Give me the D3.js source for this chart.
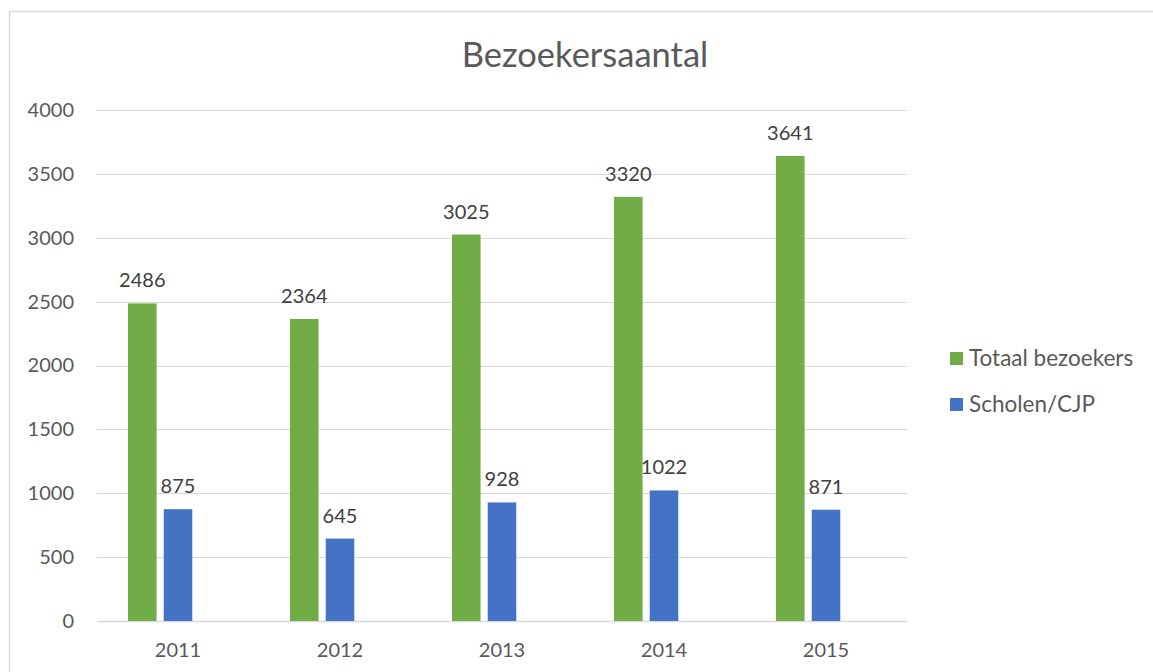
<!DOCTYPE html>
<html>
<head>
<meta charset="utf-8">
<script src="https://cdn.jsdelivr.net/npm/d3@7"></script>
<style>
  html, body { margin: 0; padding: 0; background: #fff; }
  svg { display: block; font-family: Lato, "Open Sans", sans-serif; }
</style>
</head>
<body>
<svg id="chart" width="1153" height="672"></svg>
<script>
const title = "Bezoekersaantal";
const categories = ["2011", "2012", "2013", "2014", "2015"];
const seriesNames = ["Totaal bezoekers", "Scholen/CJP"];
const totaalBezoekers = [2486, 2364, 3025, 3320, 3641];
const scholenCJP = [875, 645, 928, 1022, 871];
const yTicks = [0, 500, 1000, 1500, 2000, 2500, 3000, 3500, 4000];
const colors = ["#70ad47", "#4472c4"];
// Excel chart reserves room for a third (empty) series slot
const seriesSlots = ["Totaal bezoekers", "Scholen/CJP", "(leeg)"];

const seriesValues = [totaalBezoekers, scholenCJP];

const svg = d3.select("#chart");
const textColor = "#595959";
const gridColor = "#d9d9d9";

// outer chart border
svg.append("rect")
  .attr("x", 9.5).attr("y", 11.5)
  .attr("width", 1300).attr("height", 800)
  .attr("fill", "#fff").attr("stroke", gridColor).attr("stroke-width", 1.5);

const plot = { left: 97, right: 907, top: 110, bottom: 621 };

const x = d3.scaleBand().domain(categories).range([plot.left, plot.right]).padding(0);
const xs = d3.scaleBand().domain(seriesSlots).range([31, 131]).paddingInner(0.2).paddingOuter(0);
const y = d3.scaleLinear().domain([0, 4000]).range([plot.bottom, plot.top]);

// gridlines
svg.append("g").selectAll("line").data(yTicks).join("line")
  .attr("x1", plot.left).attr("x2", plot.right)
  .attr("y1", d => Math.round(y(d)) + 0.5).attr("y2", d => Math.round(y(d)) + 0.5)
  .attr("stroke", gridColor).attr("stroke-width", d => d === 0 ? 1.5 : 1);

// y axis labels
const yAxis = d3.axisLeft(y).tickValues(yTicks).tickSize(0).tickPadding(23).tickFormat(d3.format("d"));
const yg = svg.append("g").attr("transform", `translate(${plot.left},0)`).call(yAxis);
yg.select(".domain").remove();
yg.selectAll("text").attr("fill", textColor).style("font-size", "20px").style("font-family", "Lato, sans-serif");

// x axis labels
const xAxis = d3.axisBottom(x).tickSize(0).tickPadding(22);
const xg = svg.append("g").attr("transform", `translate(0,${plot.bottom})`).call(xAxis);
xg.select(".domain").remove();
xg.selectAll("text").attr("fill", textColor).style("font-size", "20px").style("font-family", "Lato, sans-serif");

// bars
seriesValues.forEach((vals, si) => {
  const g = svg.append("g");
  g.selectAll("rect").data(vals).join("rect")
    .attr("x", (d, i) => x(categories[i]) + xs(seriesSlots[si]))
    .attr("width", xs.bandwidth())
    .attr("y", d => y(d))
    .attr("height", d => y(0) - y(d))
    .attr("fill", colors[si]);
  g.selectAll("text").data(vals).join("text")
    .attr("x", (d, i) => x(categories[i]) + xs(seriesSlots[si]) + xs.bandwidth() / 2)
    .attr("y", d => y(d) - 16)
    .attr("text-anchor", "middle")
    .attr("fill", "#404040")
    .style("font-size", "20px")
    .text(d => d);
});

// title
svg.append("text")
  .attr("x", 585).attr("y", 67)
  .attr("text-anchor", "middle")
  .attr("fill", textColor)
  .style("font-size", "34.5px")
  .text(title);

// legend
const legend = svg.append("g");
seriesNames.forEach((name, i) => {
  const ly = 359 + i * 46;
  legend.append("rect").attr("x", 950).attr("y", ly - 7).attr("width", 13).attr("height", 13).attr("fill", colors[i]);
  legend.append("text").attr("x", 969).attr("y", ly + 7).attr("fill", textColor)
    .style("font-size", "22.5px").text(name);
});
</script>
</body>
</html>
